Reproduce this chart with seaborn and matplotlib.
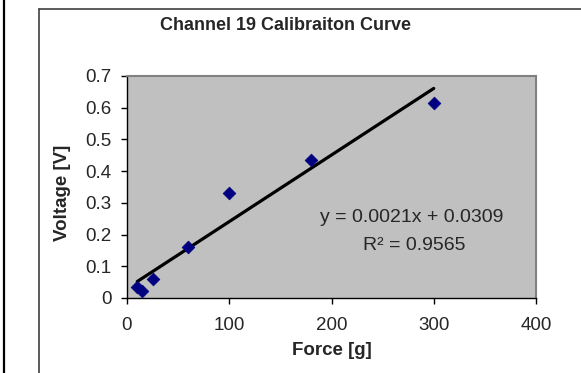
import numpy as np
import pandas as pd
import seaborn as sns
import matplotlib.pyplot as plt
from matplotlib.lines import Line2D
from matplotlib.ticker import FuncFormatter

# data
force = [10, 15, 25, 60, 100, 180, 300]
voltage = [0.034, 0.023, 0.060, 0.162, 0.330, 0.435, 0.616]
slope = 0.0021
intercept = 0.0309
x_ticks = [0, 100, 200, 300, 400]
y_ticks = [0, 0.1, 0.2, 0.3, 0.4, 0.5, 0.6, 0.7]

df = pd.DataFrame({"Force": force, "Voltage": voltage})
trend = pd.DataFrame({"Force": [min(force), max(force)]})
trend["Voltage"] = slope * trend["Force"] + intercept

sns.set_style("white")
plt.rcParams["font.family"] = ["Liberation Sans", "DejaVu Sans"]

W, H = 581, 373
fig = plt.figure(figsize=(W / 100, H / 100), dpi=100)

# outer frame lines (Excel chart area)
fig.add_artist(Line2D([4 / W, 4 / W], [0, 1], color="black", lw=1.6))
fig.add_artist(Line2D([39 / W, 39 / W], [0, 1 - 9 / H], color="#404040", lw=1.2))
fig.add_artist(Line2D([39 / W, 1], [1 - 9 / H, 1 - 9 / H], color="#404040", lw=1.2))

ax = fig.add_axes([127 / W, 75 / H, 409 / W, 222 / H])
ax.set_facecolor("#C0C0C0")

sns.lineplot(data=trend, x="Force", y="Voltage", color="black", lw=2.3, ax=ax)
sns.scatterplot(data=df, x="Force", y="Voltage", marker="D", s=42,
                color="#000080", edgecolor="#000080", zorder=3, ax=ax)

ax.set_xlim(0, 400)
ax.set_ylim(0, 0.7)
ax.set_xticks(x_ticks)
ax.set_yticks(y_ticks)
ax.yaxis.set_major_formatter(FuncFormatter(lambda v, p: "0" if v == 0 else f"{v:.1f}"))
ax.tick_params(axis="both", direction="out", length=4, width=1, color="black",
               labelsize=13.5, bottom=True, left=True)
ax.tick_params(axis="x", pad=10)
ax.tick_params(axis="y", pad=7)

for side in ["top", "right"]:
    ax.spines[side].set_color("#808080")
    ax.spines[side].set_linewidth(1.5)
for side in ["left", "bottom"]:
    ax.spines[side].set_color("black")
    ax.spines[side].set_linewidth(1)

ax.set_xlabel("Force [g]", fontsize=13.5, fontweight="bold")
ax.set_ylabel("Voltage [V]", fontsize=13.5, fontweight="bold")
ax.xaxis.set_label_coords(0.5, -0.196)
ax.yaxis.set_label_coords(-0.137, 0.475)

fig.text(285 / W, 1 - 30 / H, "Channel 19 Calibraiton Curve", ha="center",
         va="baseline", fontsize=13, fontweight="bold")

ax.text(278.7, 0.241, "y = 0.0021x + 0.0309", ha="center", va="baseline", fontsize=14)
ax.text(280.7, 0.151, "R² = 0.9565", ha="center", va="baseline", fontsize=14)

fig.savefig("out.png", dpi=100)
